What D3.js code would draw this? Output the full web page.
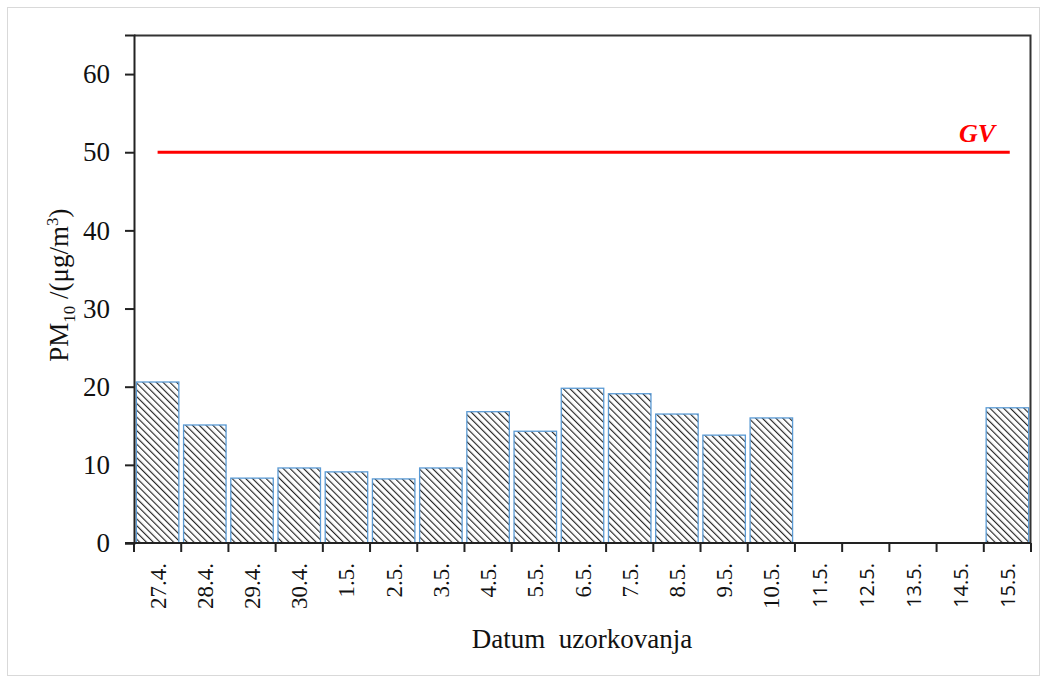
<!DOCTYPE html>
<html>
<head>
<meta charset="utf-8">
<script src="https://cdn.jsdelivr.net/npm/d3@7"></script>
<style>
  body { margin: 0; background: #fff; }
  svg { display: block; }
</style>
</head>
<body>
<script>
// chart values
var dates = ['27.4.', '28.4.', '29.4.', '30.4.', '1.5.', '2.5.', '3.5.', '4.5.', '5.5.', '6.5.',
	'7.5.', '8.5.', '9.5.', '10.5.', '11.5.', '12.5.', '13.5.', '14.5.', '15.5.'];
var pm10 = [20.6, 15.1, 8.3, 9.6, 9.1, 8.2, 9.6, 16.8, 14.3, 19.8,
	19.1, 16.5, 13.8, 16.0, null, null, null, null, 17.3];
// the dates whose labels are set in a sans face in the original
var sansDates = ['11.5.', '12.5.', '13.5.', '14.5.', '15.5.'];
var yTicks = [0, 10, 20, 30, 40, 50, 60];
var limitValue = 50;

var width = 1047,
	height = 682;

var margin = { top: 35, right: 16, bottom: 139, left: 134 };
var innerW = width - margin.left - margin.right,
	innerH = height - margin.top - margin.bottom;

var serif = '"Liberation Serif", "Times New Roman", serif';

var svg = d3.select('body').append('svg')
	.attr('width', width)
	.attr('height', height);

// light frame around the whole picture
svg.append('rect')
	.attr('x', 7.5).attr('y', 7.5)
	.attr('width', 1032).attr('height', 668)
	.attr('fill', 'none')
	.attr('stroke', '#d9d9d9');

// hatch for the bars (lines running top-left to bottom-right)
var defs = svg.append('defs');
defs.append('pattern')
	.attr('id', 'hatch')
	.attr('patternUnits', 'userSpaceOnUse')
	.attr('width', 4.8).attr('height', 4.8)
	.attr('patternTransform', 'rotate(-45)')
	.append('line')
	.attr('x1', 0).attr('y1', 0)
	.attr('x2', 0).attr('y2', 4.8)
	.attr('stroke', '#262626')
	.attr('stroke-width', 2.3);

var g = svg.append('g')
	.attr('transform', 'translate(' + margin.left + ',' + margin.top + ')');

var x = d3.scaleBand()
	.domain(dates)
	.range([0, innerW])
	.paddingInner(0.1)
	.paddingOuter(0.05);

var y = d3.scaleLinear()
	.domain([0, 65])
	.range([innerH, 0]);

// bars
g.selectAll('rect.bar')
	.data(dates.map(function(d, i) { return { date: d, v: pm10[i] }; })
		.filter(function(d) { return d.v != null; }))
	.enter().append('rect')
	.attr('class', 'bar')
	.attr('x', function(d) { return x(d.date); })
	.attr('y', function(d) { return y(d.v); })
	.attr('width', x.bandwidth())
	.attr('height', function(d) { return innerH - y(d.v); })
	.attr('fill', 'url(#hatch)')
	.attr('stroke', '#5b9bd5')
	.attr('stroke-width', 1.3);

// limit value line
var step = x.step();
g.append('line')
	.attr('x1', step * 0.5)
	.attr('x2', innerW - step * 0.45)
	.attr('y1', y(limitValue))
	.attr('y2', y(limitValue))
	.attr('stroke', '#ff0000')
	.attr('stroke-width', 3);

g.append('text')
	.attr('x', innerW - step * 0.76)
	.attr('y', y(limitValue) - 10)
	.attr('text-anchor', 'end')
	.attr('fill', '#ff0000')
	.style('font-family', serif)
	.style('font-size', '26px')
	.style('font-weight', 'bold')
	.style('font-style', 'italic')
	.text('GV');

// plot frame: top and right
g.append('path')
	.attr('d', 'M0,0.5H' + (innerW - 0.5) + 'V' + innerH)
	.attr('fill', 'none')
	.attr('stroke', '#333')
	.attr('stroke-width', 2);

// y axis
var yAxis = g.append('g')
	.call(d3.axisLeft(y).tickValues(yTicks).tickSize(9).tickPadding(15));
yAxis.select('.domain').attr('stroke', '#222').attr('stroke-width', 2);
yAxis.selectAll('.tick line').attr('stroke', '#222').attr('stroke-width', 2);
yAxis.selectAll('.tick text')
	.attr('fill', '#111')
	.style('font-family', serif)
	.style('font-size', '27px');

// x axis, ticks sit on the band boundaries
var boundaries = d3.range(dates.length + 1).map(function(i) {
	return i === 0 ? 0 : (i === dates.length ? innerW : x(dates[i]) - step * x.paddingInner() / 2);
});
var xAxis = g.append('g')
	.attr('transform', 'translate(0,' + innerH + ')');
xAxis.append('line')
	.attr('x1', -9).attr('x2', innerW)
	.attr('stroke', '#222').attr('stroke-width', 2);
xAxis.selectAll('line.tk')
	.data(boundaries)
	.enter().append('line')
	.attr('class', 'tk')
	.attr('x1', function(d) { return d; })
	.attr('x2', function(d) { return d; })
	.attr('y1', 0).attr('y2', 9)
	.attr('stroke', '#222').attr('stroke-width', 2);

xAxis.selectAll('text.lbl')
	.data(dates)
	.enter().append('text')
	.attr('class', 'lbl')
	.attr('transform', function(d) {
		return 'translate(' + (x(d) + x.bandwidth() / 2 + 8) + ',20) rotate(-90)';
	})
	.attr('text-anchor', 'end')
	.attr('fill', '#111')
	.style('font-family', function(d) {
		return sansDates.indexOf(d) >= 0 ? '"Open Sans", "Noto Sans", sans-serif' : serif;
	})
	.style('font-size', function(d) { return sansDates.indexOf(d) >= 0 ? '20px' : '23px'; })
	.text(function(d) { return d; });

// axis titles
svg.append('text')
	.attr('x', 582)
	.attr('y', 648)
	.attr('text-anchor', 'middle')
	.attr('fill', '#111')
	.style('font-family', serif)
	.style('font-size', '27px')
	.attr('xml:space', 'preserve')
	.text('Datum  uzorkovanja');

var yTitle = svg.append('text')
	.attr('transform', 'translate(68,' + (margin.top + y(33)) + ') rotate(-90)')
	.attr('text-anchor', 'middle')
	.attr('fill', '#111')
	.style('font-family', serif)
	.style('font-size', '27px');
yTitle.append('tspan').text('PM');
yTitle.append('tspan').attr('dy', 7).style('font-size', '17px').text('10');
yTitle.append('tspan').attr('dy', -7).text(' /(μg/m');
yTitle.append('tspan').attr('dy', -10).style('font-size', '17px').text('3');
yTitle.append('tspan').attr('dy', 10).text(')');
</script>
</body>
</html>
